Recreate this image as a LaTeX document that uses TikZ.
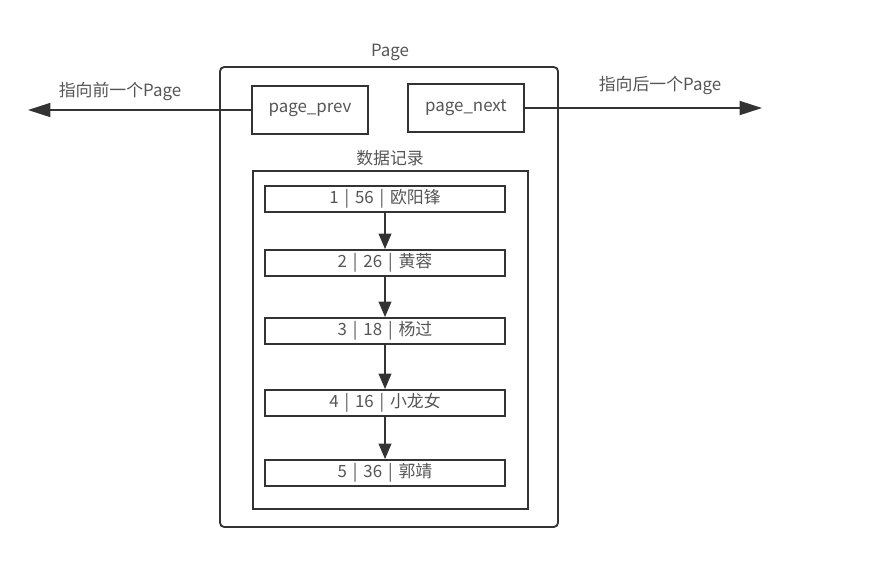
\documentclass[tikz,border=0pt]{standalone}
\usepackage{fontspec}
\setmainfont{Noto Sans CJK SC}
\usetikzlibrary{arrows.meta}
\usetikzlibrary{positioning}
\definecolor{linegray}{HTML}{333333}
\definecolor{textgray}{HTML}{555555}
\newcommand{\fsep}{\hspace{0.35em}|\hspace{0.35em}}
\tikzset{box/.style = {draw = linegray, line width = 1.3pt, inner sep = 0, text = textgray},
         recbox/.style = {box, minimum width = 6cm, minimum height = 0.65cm},
         ptrbox/.style = {box, minimum width = 2.9cm, minimum height = 1.18cm},
         lbl/.style = {text = textgray, inner sep = 0},
         link/.style = {draw = linegray, line width = 1.3pt, -{Triangle[length = 11pt, width = 9pt]}}}

\begin{document}
\begin{tikzpicture}[x = 0.025cm, y = -0.025cm, font = \fontsize{12}{14}\selectfont]
    \useasboundingbox (0, 0) rectangle (880, 562);

    % the page
    \draw[draw = linegray, line width = 1.3pt, rounded corners = 3pt] (220, 67) rectangle (558, 527);
    \node[lbl] (title) at (390, 52) {Page};

    \node[ptrbox] (prev) at (310, 110) {page\_prev};
    \node[ptrbox] (next) at (466, 108) {page\_next};

    \coordinate (prevend) at (28, 110);
    \coordinate (nextend) at (762, 108);
    \draw[link, -{Triangle[length = 16pt, width = 10pt]}] (prev) -- (prevend);
    \draw[link, -{Triangle[length = 16pt, width = 10pt]}] (next) -- (nextend);
    \node[lbl] (prevlbl) at (120, 91) {指向前一个Page};
    \node[lbl] (nextlbl) at (660, 85) {指向后一个Page};

    % records
    \node[lbl] (data) at (390, 158) {数据记录};
    \draw[draw = linegray, line width = 1.3pt] (253, 171) rectangle (528, 509);

    \node[recbox] (r1) at (385, 199) {1\fsep 56\fsep 欧阳锋};
    \node[recbox] (r2) at (385, 263) {2\fsep 26\fsep 黄蓉};
    \node[recbox] (r3) at (385, 331) {3\fsep 18\fsep 杨过};
    \node[recbox] (r4) at (385, 403) {4\fsep 16\fsep 小龙女};
    \node[recbox] (r5) at (385, 473) {5\fsep 36\fsep 郭靖};

    \draw[link] (r1) -- (r2);
    \draw[link] (r2) -- (r3);
    \draw[link] (r3) -- (r4);
    \draw[link] (r4) -- (r5);
  \end{tikzpicture}
\end{document}
